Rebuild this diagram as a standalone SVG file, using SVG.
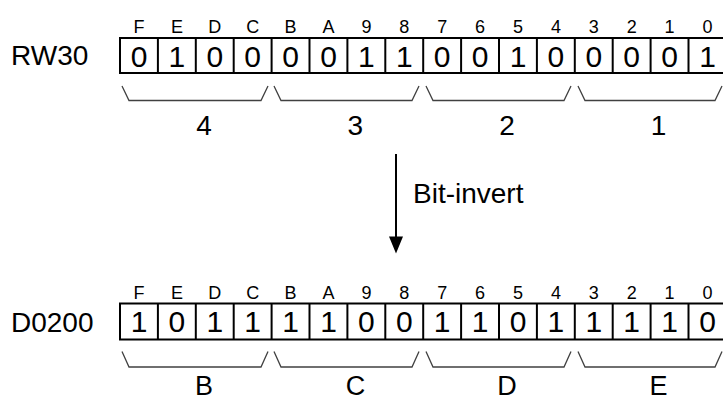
<svg xmlns="http://www.w3.org/2000/svg" width="723" height="402" viewBox="0 0 723 402">
<defs>
<style>
text{font-family:"Liberation Sans",Arial,sans-serif;fill:#000}
.name{font-size:28px}
.bit{font-size:18px;text-anchor:middle}
.val{font-size:30px;text-anchor:middle}
.grp{font-size:28px;text-anchor:middle}
.grpb{font-size:27px;text-anchor:middle}
.box{fill:#fff;stroke:#000;stroke-width:2}
.div{stroke:#000;stroke-width:2}
.br{fill:none;stroke:#404040;stroke-width:1.3}
.conn{stroke:#000;stroke-width:2;fill:none}
</style>
</defs>
<rect width="723" height="402" fill="#fff"/>

<g id="rw30">
<text class="name" x="11" y="65">RW30</text>
<rect class="box" x="120" y="38" width="606.4" height="35"/>
<g class="div">
<line x1="157.9" y1="38" x2="157.9" y2="73"/><line x1="195.8" y1="38" x2="195.8" y2="73"/><line x1="233.7" y1="38" x2="233.7" y2="73"/><line x1="271.6" y1="38" x2="271.6" y2="73"/><line x1="309.5" y1="38" x2="309.5" y2="73"/><line x1="347.4" y1="38" x2="347.4" y2="73"/><line x1="385.3" y1="38" x2="385.3" y2="73"/><line x1="423.2" y1="38" x2="423.2" y2="73"/><line x1="461.1" y1="38" x2="461.1" y2="73"/><line x1="499" y1="38" x2="499" y2="73"/><line x1="536.9" y1="38" x2="536.9" y2="73"/><line x1="574.8" y1="38" x2="574.8" y2="73"/><line x1="612.7" y1="38" x2="612.7" y2="73"/><line x1="650.6" y1="38" x2="650.6" y2="73"/><line x1="688.5" y1="38" x2="688.5" y2="73"/>
</g>
<g class="bits">
<text class="bit" x="139" y="32.5">F</text><text class="bit" x="176.9" y="32.5">E</text><text class="bit" x="214.8" y="32.5">D</text><text class="bit" x="252.7" y="32.5">C</text><text class="bit" x="290.6" y="32.5">B</text><text class="bit" x="328.5" y="32.5">A</text><text class="bit" x="366.4" y="32.5">9</text><text class="bit" x="404.3" y="32.5">8</text><text class="bit" x="442.2" y="32.5">7</text><text class="bit" x="480.1" y="32.5">6</text><text class="bit" x="518" y="32.5">5</text><text class="bit" x="555.9" y="32.5">4</text><text class="bit" x="593.8" y="32.5">3</text><text class="bit" x="631.7" y="32.5">2</text><text class="bit" x="669.6" y="32.5">1</text><text class="bit" x="707.5" y="32.5">0</text>
</g>
<g class="vals">
<text class="val" x="139" y="66.5">0</text><text class="val" x="176.9" y="66.5">1</text><text class="val" x="214.8" y="66.5">0</text><text class="val" x="252.7" y="66.5">0</text><text class="val" x="290.6" y="66.5">0</text><text class="val" x="328.5" y="66.5">0</text><text class="val" x="366.4" y="66.5">1</text><text class="val" x="404.3" y="66.5">1</text><text class="val" x="442.2" y="66.5">0</text><text class="val" x="480.1" y="66.5">0</text><text class="val" x="518" y="66.5">1</text><text class="val" x="555.9" y="66.5">0</text><text class="val" x="593.8" y="66.5">0</text><text class="val" x="631.7" y="66.5">0</text><text class="val" x="669.6" y="66.5">0</text><text class="val" x="707.5" y="66.5">1</text>
</g>
<path class="br" d="M122,86 L129,100.5 L261,100.5 L268,86"/>
<path class="br" d="M274,86 L281,100.5 L412,100.5 L419,86"/>
<path class="br" d="M426,86 L433,100.5 L564,100.5 L571,86"/>
<path class="br" d="M578,86 L585,100.5 L715,100.5 L722,86"/>
<text class="grp" x="204" y="135">4</text>
<text class="grp" x="355.4" y="135">3</text>
<text class="grp" x="507" y="135">2</text>
<text class="grp" x="658.6" y="135">1</text>
</g>

<g id="connectors">
<line class="conn" x1="396" y1="154" x2="396" y2="238"/>
<polygon points="389,236.5 403,236.5 396,253.5" fill="#000"/>
<text class="name" x="413" y="203">Bit-invert</text>
</g>

<g id="d0200">
<text class="name" x="11" y="331.5">D0200</text>
<rect class="box" x="120" y="303.5" width="606.4" height="36"/>
<g class="div">
<line x1="157.9" y1="303.5" x2="157.9" y2="339.5"/><line x1="195.8" y1="303.5" x2="195.8" y2="339.5"/><line x1="233.7" y1="303.5" x2="233.7" y2="339.5"/><line x1="271.6" y1="303.5" x2="271.6" y2="339.5"/><line x1="309.5" y1="303.5" x2="309.5" y2="339.5"/><line x1="347.4" y1="303.5" x2="347.4" y2="339.5"/><line x1="385.3" y1="303.5" x2="385.3" y2="339.5"/><line x1="423.2" y1="303.5" x2="423.2" y2="339.5"/><line x1="461.1" y1="303.5" x2="461.1" y2="339.5"/><line x1="499" y1="303.5" x2="499" y2="339.5"/><line x1="536.9" y1="303.5" x2="536.9" y2="339.5"/><line x1="574.8" y1="303.5" x2="574.8" y2="339.5"/><line x1="612.7" y1="303.5" x2="612.7" y2="339.5"/><line x1="650.6" y1="303.5" x2="650.6" y2="339.5"/><line x1="688.5" y1="303.5" x2="688.5" y2="339.5"/>
</g>
<g class="bits">
<text class="bit" x="139" y="298.5">F</text><text class="bit" x="176.9" y="298.5">E</text><text class="bit" x="214.8" y="298.5">D</text><text class="bit" x="252.7" y="298.5">C</text><text class="bit" x="290.6" y="298.5">B</text><text class="bit" x="328.5" y="298.5">A</text><text class="bit" x="366.4" y="298.5">9</text><text class="bit" x="404.3" y="298.5">8</text><text class="bit" x="442.2" y="298.5">7</text><text class="bit" x="480.1" y="298.5">6</text><text class="bit" x="518" y="298.5">5</text><text class="bit" x="555.9" y="298.5">4</text><text class="bit" x="593.8" y="298.5">3</text><text class="bit" x="631.7" y="298.5">2</text><text class="bit" x="669.6" y="298.5">1</text><text class="bit" x="707.5" y="298.5">0</text>
</g>
<g class="vals">
<text class="val" x="139" y="332">1</text><text class="val" x="176.9" y="332">0</text><text class="val" x="214.8" y="332">1</text><text class="val" x="252.7" y="332">1</text><text class="val" x="290.6" y="332">1</text><text class="val" x="328.5" y="332">1</text><text class="val" x="366.4" y="332">0</text><text class="val" x="404.3" y="332">0</text><text class="val" x="442.2" y="332">1</text><text class="val" x="480.1" y="332">1</text><text class="val" x="518" y="332">0</text><text class="val" x="555.9" y="332">1</text><text class="val" x="593.8" y="332">1</text><text class="val" x="631.7" y="332">1</text><text class="val" x="669.6" y="332">1</text><text class="val" x="707.5" y="332">0</text>
</g>
<path class="br" d="M122,351.5 L129,367 L261,367 L268,351.5"/>
<path class="br" d="M274,351.5 L281,367 L412,367 L419,351.5"/>
<path class="br" d="M426,351.5 L433,367 L564,367 L571,351.5"/>
<path class="br" d="M578,351.5 L585,367 L715,367 L722,351.5"/>
<text class="grpb" x="204" y="395">B</text>
<text class="grpb" x="355.4" y="395">C</text>
<text class="grpb" x="507" y="395">D</text>
<text class="grpb" x="658.6" y="395">E</text>
</g>
</svg>
